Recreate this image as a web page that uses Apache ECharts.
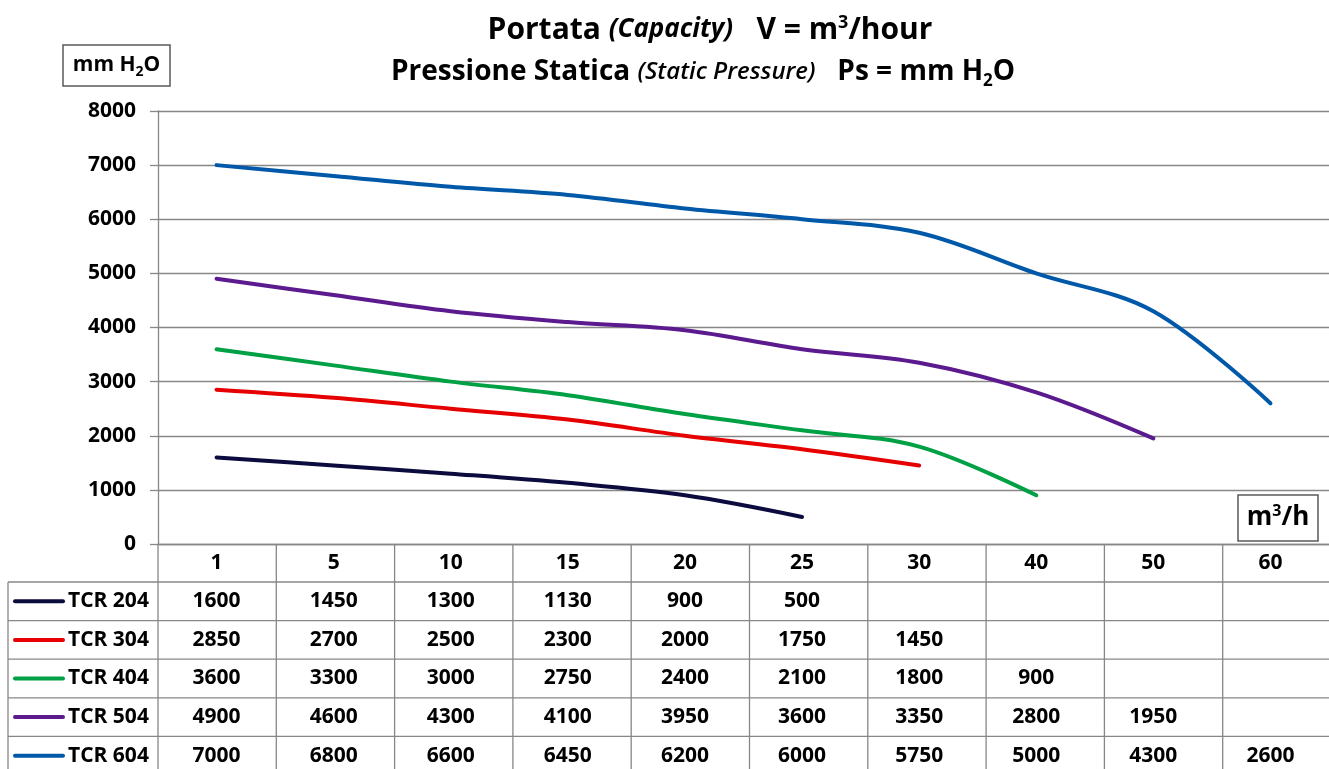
<!DOCTYPE html>
<html>
<head>
<meta charset="utf-8">
<script src="https://cdn.jsdelivr.net/npm/echarts@6/dist/echarts.min.js"></script>
<style>
html,body{margin:0;padding:0;background:#fff;}
#c{width:1329px;height:769px;}
</style>
</head>
<body>
<div id="c"></div>
<script>
// ---- data ----
const categories = ['1', '5', '10', '15', '20', '25', '30', '40', '50', '60'];
const seriesNames = ['TCR 204', 'TCR 304', 'TCR 404', 'TCR 504', 'TCR 604'];
const tcr204 = [1600, 1450, 1300, 1130, 900, 500, null, null, null, null];
const tcr304 = [2850, 2700, 2500, 2300, 2000, 1750, 1450, null, null, null];
const tcr404 = [3600, 3300, 3000, 2750, 2400, 2100, 1800, 900, null, null];
const tcr504 = [4900, 4600, 4300, 4100, 3950, 3600, 3350, 2800, 1950, null];
const tcr604 = [7000, 6800, 6600, 6450, 6200, 6000, 5750, 5000, 4300, 2600];
const yMin = 0, yMax = 8000, yStep = 1000;

// ---- styles ----
const seriesData = [tcr204, tcr304, tcr404, tcr504, tcr604];
const colors = ['#0b0b3d', '#e60000', '#00a044', '#5b1a8e', '#0058a8'];
const FONT = '"Open Sans", "Liberation Sans", sans-serif';
const gridCol = '#878787';
const GL = 158, GT = 111, GW = 1183, GH = 433;
const FS = 21;

const chart = echarts.init(document.getElementById('c'), null, {renderer: 'canvas'});

const baseOption = {
  backgroundColor: '#ffffff',
  animation: false,
  grid: {left: GL, top: GT, width: GW, height: GH, containLabel: false},
  xAxis: {
    type: 'category',
    data: categories,
    boundaryGap: true,
    axisLine: {show: true, lineStyle: {color: gridCol, width: 1.3}},
    axisTick: {show: false},
    axisLabel: {color: '#000', fontFamily: FONT, fontWeight: 'bold', fontSize: FS, margin: 9}
  },
  yAxis: {
    type: 'value',
    min: yMin, max: yMax, interval: yStep,
    axisLine: {show: true, lineStyle: {color: gridCol, width: 1.3}},
    axisTick: {show: true, length: 8, lineStyle: {color: gridCol, width: 1.3}},
    splitLine: {show: true, lineStyle: {color: gridCol, width: 1.3}},
    axisLabel: {color: '#000', fontFamily: FONT, fontWeight: 'bold', fontSize: FS, margin: 22,
      formatter: v => String(v)}
  },
  series: seriesNames.map((n, i) => ({
    name: n,
    type: 'line',
    data: seriesData[i],
    smooth: 0.35,
    connectNulls: false,
    showSymbol: false,
    symbol: 'none',
    lineStyle: {color: colors[i], width: 4, cap: 'round'},
    itemStyle: {color: colors[i]}
  }))
};
chart.setOption(baseOption);

// ---- table & annotations built from axis positions ----
const band = GW / categories.length;
const headerBottom = GT + GH + 38;
const rowH = 38.6;
const tableBottom = headerBottom + rowH * seriesNames.length;
const lineStyle = {stroke: gridCol, lineWidth: 1.3};
const g = [];
g.push({type: 'line', shape: {x1: GL, y1: headerBottom, x2: GL + GW, y2: headerBottom}, style: lineStyle});
g.push({type: 'line', shape: {x1: 8, y1: headerBottom, x2: GL, y2: headerBottom}, style: lineStyle});
for (let r = 1; r <= seriesNames.length; r++) {
  const y = headerBottom + rowH * r;
  g.push({type: 'line', shape: {x1: 8, y1: y, x2: GL + GW, y2: y}, style: lineStyle});
}
g.push({type: 'line', shape: {x1: 8, y1: headerBottom, x2: 8, y2: tableBottom}, style: lineStyle});
for (let c = 0; c <= categories.length; c++) {
  const x = GL + band * c;
  g.push({type: 'line', shape: {x1: x, y1: GT + GH, x2: x, y2: tableBottom}, style: lineStyle});
}
seriesNames.forEach((n, r) => {
  const cy = headerBottom + rowH * r + rowH / 2;
  g.push({type: 'line', shape: {x1: 15, y1: cy, x2: 63, y2: cy},
    style: {stroke: colors[r], lineWidth: 4, lineCap: 'round'}});
  g.push({type: 'text', x: 68, y: cy, style: {text: n, fontFamily: FONT, fontWeight: 'bold', fontSize: FS,
    fill: '#000', textAlign: 'left', textVerticalAlign: 'middle'}});
  seriesData[r].forEach((v, c) => {
    if (v == null) return;
    const cx = chart.convertToPixel({xAxisIndex: 0}, c);
    g.push({type: 'text', x: cx, y: cy, style: {text: String(v), fontFamily: FONT, fontWeight: 'bold', fontSize: FS,
      fill: '#000', textAlign: 'center', textVerticalAlign: 'middle'}});
  });
});

const rich = {
  b: {fontFamily: FONT, fontWeight: 'bold', fontSize: 30, lineHeight: 38, verticalAlign: 'middle', color: '#000'},
  i: {fontFamily: FONT, fontWeight: 'bold', fontStyle: 'italic', fontSize: 26, lineHeight: 38, verticalAlign: 'middle', color: '#000'},
  sup: {fontFamily: FONT, fontWeight: 'bold', fontSize: 18, lineHeight: 38, verticalAlign: 'top', padding: [3, 0, 0, 0], color: '#000'},
  b2: {fontFamily: FONT, fontWeight: 'bold', fontSize: 28, lineHeight: 36, verticalAlign: 'middle', color: '#000'},
  i2: {fontFamily: FONT, fontWeight: 600, fontStyle: 'italic', fontSize: 24, lineHeight: 36, verticalAlign: 'middle', color: '#000'},
  sub: {fontFamily: FONT, fontWeight: 'bold', fontSize: 17, lineHeight: 36, verticalAlign: 'bottom', color: '#000'},
  bs: {fontFamily: FONT, fontWeight: 'bold', fontSize: 21, lineHeight: 28, verticalAlign: 'middle', color: '#000'},
  ss: {fontFamily: FONT, fontWeight: 'bold', fontSize: 14, lineHeight: 28, verticalAlign: 'bottom', color: '#000'},
  bm: {fontFamily: FONT, fontWeight: 'bold', fontSize: 26, lineHeight: 34, verticalAlign: 'middle', color: '#000'},
  sm: {fontFamily: FONT, fontWeight: 'bold', fontSize: 16, lineHeight: 34, verticalAlign: 'top', padding: [2, 0, 0, 0], color: '#000'}
};
g.push({type: 'text', x: 710, y: 30, style: {
  text: '{b|Portata }{i|(Capacity)}{b|   V = m}{sup|3}{b|/hour}', rich: rich,
  textAlign: 'center', textVerticalAlign: 'middle'}});
g.push({type: 'text', x: 703, y: 72, style: {
  text: '{b2|Pressione Statica }{i2|(Static Pressure)}{b2|   Ps = mm H}{sub|2}{b2|O}', rich: rich,
  textAlign: 'center', textVerticalAlign: 'middle'}});
g.push({type: 'rect', shape: {x: 63, y: 45, width: 107, height: 41}, style: {fill: '#fff', stroke: '#595959', lineWidth: 1.5}});
g.push({type: 'text', x: 116.5, y: 65.5, style: {text: '{bs|mm H}{ss|2}{bs|O}', rich: rich, textAlign: 'center', textVerticalAlign: 'middle'}});
g.push({type: 'rect', shape: {x: 1238, y: 495, width: 80, height: 46}, style: {fill: '#fff', stroke: '#595959', lineWidth: 1.5}});
g.push({type: 'text', x: 1278, y: 518, style: {text: '{bm|m}{sm|3}{bm|/h}', rich: rich, textAlign: 'center', textVerticalAlign: 'middle'}});

chart.setOption({graphic: {elements: g}});
</script>
</body>
</html>
